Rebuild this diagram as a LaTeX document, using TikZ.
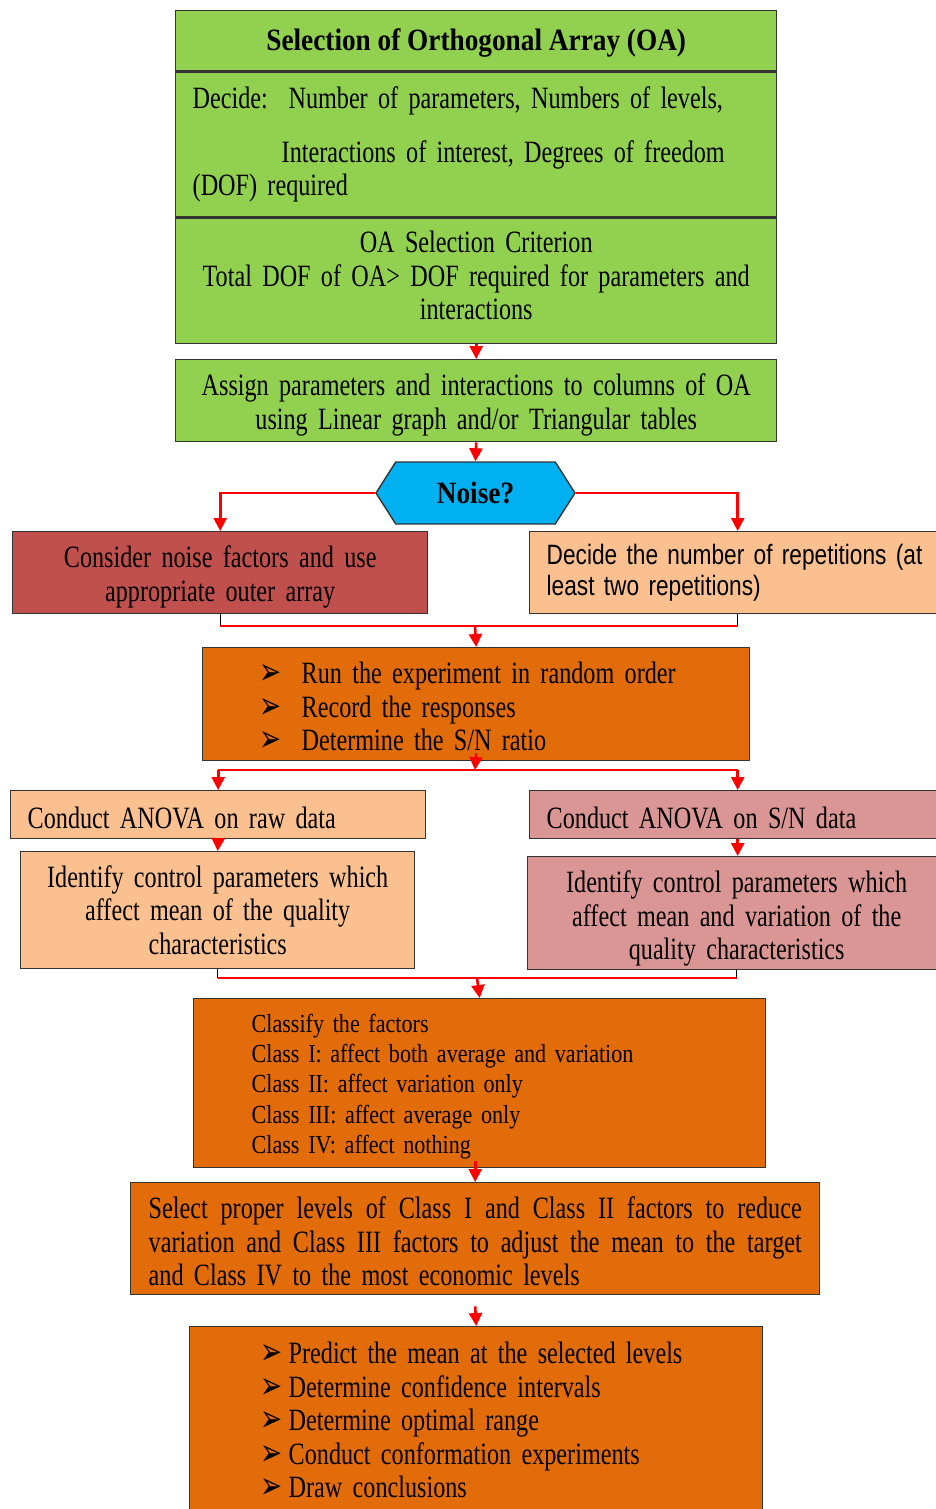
\documentclass[tikz,border=0pt]{standalone}
\usepackage{graphicx}
\usepackage{fontspec}
\setmainfont[FakeStretch=0.78, WordSpace=0.8]{Liberation Serif}
\newfontfamily\headfont[FakeStretch=0.88]{Liberation Serif}
\newfontfamily\classfont[FakeStretch=0.85, WordSpace=0.85]{Liberation Serif}
\newfontfamily\repsfont[FakeStretch=0.81]{Liberation Sans}
\newfontfamily\dingfont{DejaVu Sans}
\usetikzlibrary{arrows.meta, positioning, shapes.symbols}
\definecolor{oagreen}{HTML}{92D050}
\definecolor{oacyan}{HTML}{00B0F0}
\definecolor{oabrick}{HTML}{C0504D}
\definecolor{oapeach}{HTML}{FAC090}
\definecolor{oapink}{HTML}{D99694}
\definecolor{oaorange}{HTML}{E36C0A}
\newcommand{\pointer}{\raisebox{-1pt}{\scalebox{1.05}[1.5]{\dingfont\fontsize{25}{25}\selectfont ➢}}}
\newcommand{\spreadline}[1]{\leavevmode\hbox to 653pt{\spaceskip=0.2em plus 1fil\relax #1}}
\newcommand{\topstrut}[1][30pt]{\rule{0pt}{#1}}
\newcommand{\botstrut}[1][11pt]{\rule[-#1]{0pt}{1pt}}
\tikzset{%
	every node/.style={
		font=\fontsize{31}{33.5}\selectfont
	},
	box/.style={
		draw=black!80,
		line width=1.4pt,
		anchor=north west,
		inner sep=0pt
	},
	flow/.style={
		red,
		line width=2.6pt,
		-{Triangle[length=13pt,width=13pt]}
	},
	joint/.style={red, line width=2.6pt},
	stub/.style={black, line width=0.9pt},
}

\begin{document}
\begin{tikzpicture}[x=1pt, y=-1pt]
			\useasboundingbox (0,0) rectangle (936,1509);
			\clip (0,0) rectangle (936,1509);
			
			% Orthogonal array selection
			\node[box, fill=oagreen, minimum width=601, minimum height=60] (title) at (175,10)
				{\headfont\bfseries\topstrut[27pt]Selection of Orthogonal Array (OA)};
			\node[box, fill=oagreen, minimum height=145, inner xsep=17pt, text width=567pt, align=left] (decide) at (title.south west)
				{Decide:\ \ Number of parameters, Numbers of levels,\\[20pt]
				\hspace*{89pt}Interactions of interest, Degrees of freedom\\
				(DOF) required};
			\node[box, fill=oagreen, minimum height=125, text width=601pt, align=center] (crit) at (decide.south west)
				{OA Selection Criterion\\Total DOF of OA> DOF required for parameters and\\interactions\botstrut};
			\node[box, fill=oagreen, minimum height=82, text width=601pt, align=center] (assign) at (175,359)
				{\topstrut Assign parameters and interactions to columns of OA\\using Linear graph and/or Triangular tables};
			
			% Noise decision
			\node[shape=signal, signal to=west and east, signal pointer angle=115, draw=black!80, line width=1.4pt,
				fill=oacyan, minimum width=199, minimum height=62, inner sep=0pt] (noise) at (475.5,493)
				{\headfont\bfseries Noise?};
			\node[box, fill=oabrick, minimum height=82, text width=415pt, align=center] (cons) at (12,531)
				{\topstrut Consider noise factors and use\\appropriate outer array};
			\node[box, fill=oapeach, minimum height=82, inner xsep=17pt, text width=382pt, align=left,
				font=\repsfont\fontsize{28}{31}\selectfont] (reps) at (529,531)
				{Decide the number of repetitions (at\\least two repetitions)};
			
			% Experiment
			\node[box, fill=oaorange, minimum height=113, inner xsep=57pt, text width=433pt, align=left] (run) at (202,647)
				{\topstrut[27pt]\pointer\hspace{20pt}Run the experiment in random order\\
				\pointer\hspace{20pt}Record the responses\\
				\pointer\hspace{20pt}Determine the S/N ratio};
			
			% Analysis of variance
			\node[box, fill=oapeach, minimum height=48, inner xsep=17pt, text width=381pt, align=left] (raw) at (10,790)
				{\topstrut[28pt]Conduct ANOVA on raw data};
			\node[box, fill=oapink, minimum height=48, inner xsep=17pt, text width=382pt, align=left] (sn) at (529,790)
				{\topstrut[28pt]Conduct ANOVA on S/N data};
			\node[box, fill=oapeach, minimum height=117, text width=394pt, align=center] (idl) at (20,851)
				{Identify control parameters which\\affect mean of the quality\\characteristics};
			\node[box, fill=oapink, minimum height=113, text width=418pt, align=center] (idr) at (527,856)
				{\topstrut[33pt]Identify control parameters which\\affect mean and variation of the\\quality characteristics};
			
			% Classification and levels
			\node[box, fill=oaorange, minimum height=169, inner xsep=58pt, text width=456pt, align=left,
				font=\classfont\fontsize{26}{30.2}\selectfont] (classify) at (193,998)
				{\topstrut[25pt]Classify the factors\\
				Class I: affect both average and variation\\
				Class II: affect variation only\\
				Class III: affect average only\\
				Class IV: affect nothing};
			\node[box, fill=oaorange, minimum height=112, inner xsep=18pt, text width=653pt, align=left] (select) at (130,1182)
				{\spreadline{\topstrut[28pt]Select proper levels of Class I and Class II factors to reduce}\\
				\spreadline{variation and Class III factors to adjust the mean to the target}\\
				and Class IV to the most economic levels};
			\node[box, fill=oaorange, minimum height=188, inner xsep=71pt, text width=431pt, align=left] (predict) at (189,1326)
				{\pointer\hspace{6pt}Predict the mean at the selected levels\\
				\pointer\hspace{6pt}Determine confidence intervals\\
				\pointer\hspace{6pt}Determine optimal range\\
				\pointer\hspace{6pt}Conduct conformation experiments\\
				\pointer\hspace{6pt}Draw conclusions};
			
			% Joints
			\coordinate (j1) at (475,626);
			\coordinate (j2) at (475,770);
			\coordinate (j3) at (477,978);
			
			% Connectors
			\draw[flow] (crit.south) -- (assign.north);
			\draw[flow] (assign.south) -- (noise.north);
			\draw[flow] (noise.west) -| (cons.north);
			\draw[flow] (noise.east) -| (reps.north);
			
			\draw[stub] (cons.south) -- (cons.south |- j1);
			\draw[stub] (reps.south) -- (reps.south |- j1);
			\draw[joint] (cons.south |- j1) -- (reps.south |- j1);
			\draw[flow] (j1) -- (run.north);
			
			\draw[flow] ([yshift=8pt]run.south) -- (j2);
			\draw[joint] (raw.north |- j2) -- (sn.north |- j2);
			\draw[flow] (raw.north |- j2) -- (raw.north);
			\draw[flow] (sn.north |- j2) -- (sn.north);
			
			\draw[flow] (raw.south) -- (idl.north);
			\draw[flow] (sn.south) -- (sn.south |- idr.north);
			
			\draw[stub] (idl.south) -- (idl.south |- j3);
			\draw[stub] (idr.south) -- (idr.south |- j3);
			\draw[joint] (idl.south |- j3) -- (idr.south |- j3);
			\draw[flow] (j3) -- (classify.north);
			
			\draw[flow] ([yshift=7pt]select.north |- classify.south) -- (select.north);
			\draw[flow] ([yshift=-11pt]select.south) -- (predict.north);
			
		\end{tikzpicture}
\end{document}
